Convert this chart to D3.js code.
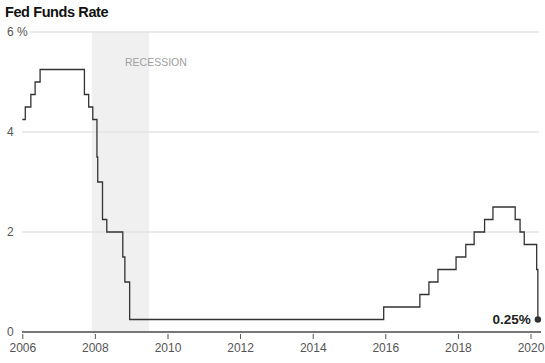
<!DOCTYPE html>
<html><head><meta charset="utf-8">
<script src="https://cdn.jsdelivr.net/npm/d3@7"></script>
<style>body{margin:0;background:#fff}svg{display:block}</style>
</head><body>
<script>
const dates = ["2006-01-01","2006-01-31","2006-03-28","2006-05-10","2006-06-29","2007-09-18","2007-10-31","2007-12-11","2008-01-22","2008-01-30","2008-03-18","2008-04-30","2008-10-08","2008-10-29","2008-12-16","2015-12-16","2016-12-14","2017-03-15","2017-06-14","2017-12-13","2018-03-21","2018-06-13","2018-09-26","2018-12-19","2019-07-31","2019-09-18","2019-10-30","2020-03-03","2020-03-15"];
const rates = [4.25,4.5,4.75,5.0,5.25,4.75,4.5,4.25,3.5,3.0,2.25,2.0,1.5,1.0,0.25,0.5,0.75,1.0,1.25,1.5,1.75,2.0,2.25,2.5,2.25,2.0,1.75,1.25,0.25];
const yTicks = [0,2,4,6];
const yTickLabels = ["0","2","4","6 %"];
const xTickYears = [2006,2008,2010,2012,2014,2016,2018,2020];
const recession = ["2007-12-01","2009-06-30"];
const title = "Fed Funds Rate";
const lastLabel = "0.25%";

const W=545,H=363;
const parse=d3.timeParse("%Y-%m-%d");
const data=dates.map((d,i)=>({date:parse(d),v:rates[i]}));
const x=d3.scaleTime().domain([new Date(2006,0,1),new Date(2020,0,1)]).range([22.3,530.5]);
const y=d3.scaleLinear().domain([0,6]).range([332,32]);

const svg=d3.select("body").append("svg").attr("width",W).attr("height",H);
const font="'Liberation Sans', Arial, sans-serif";

svg.append("text").attr("x",5).attr("y",17).text(title)
 .attr("font-family",font).attr("font-weight","bold").attr("font-size",14.5).attr("letter-spacing",-0.4).attr("fill","#111");

// recession
svg.append("rect").attr("x",x(parse(recession[0]))).attr("y",y(6))
 .attr("width",x(parse(recession[1]))-x(parse(recession[0]))).attr("height",y(0)-y(6)).attr("fill","#f0f0f0");
svg.append("text").attr("x",125).attr("y",66)
 .text("RECESSION").attr("font-family",font).attr("font-size",10.5).attr("fill","#a0a0a0");

// gridlines + y labels
yTicks.forEach((t,i)=>{
  if(t>0){
    const lx = i===3?30:22;
    svg.append("line").attr("x1",lx).attr("x2",539).attr("y1",y(t)).attr("y2",y(t))
      .attr("stroke","#e4e4e4").attr("stroke-width",1.5);
  }
  svg.append("text").attr("x",7).attr("y",y(t)+4).text(yTickLabels[i])
    .attr("font-family",font).attr("font-size",12).attr("fill","#555");
});

// x axis
const xa=svg.append("g").attr("transform",`translate(0,${y(0)})`)
 .call(d3.axisBottom(x).tickValues(xTickYears.map(yr=>new Date(yr,0,1))).tickFormat(d3.timeFormat("%Y")).tickSize(6).tickPadding(5));
xa.select(".domain").remove();
xa.selectAll(".tick line").attr("stroke","#555").attr("y1",2).attr("y2",7);
xa.selectAll("text").attr("font-family",font).attr("font-size",12).attr("fill","#555");
svg.append("line").attr("x1",22).attr("x2",541).attr("y1",y(0)).attr("y2",y(0)).attr("stroke","#777").attr("stroke-width",2);

// line
const line=d3.line().x(d=>x(d.date)).y(d=>y(d.v)).curve(d3.curveStepAfter);
svg.append("path").datum(data).attr("d",line).attr("fill","none").attr("stroke","#333").attr("stroke-width",1.3);

const last=data[data.length-1];
svg.append("circle").attr("cx",x(last.date)).attr("cy",y(last.v)).attr("r",3.2).attr("fill","#333");
svg.append("text").attr("x",x(last.date)-7).attr("y",y(last.v)+4.5).attr("text-anchor","end").text(lastLabel)
 .attr("font-family",font).attr("font-weight","bold").attr("font-size",13.5).attr("fill","#222");
</script>
</body></html>
